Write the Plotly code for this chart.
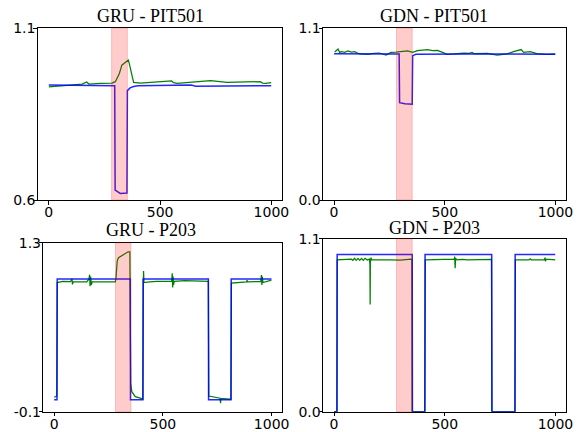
import plotly.graph_objects as go
from plotly.subplots import make_subplots

# ---------------- data ----------------
# GRU - PIT501
gru_pit_blue_x = [0, 150, 296, 298, 310, 321, 351, 353, 365, 381, 400, 640, 660, 999]
gru_pit_blue_y = [0.934, 0.933, 0.932, 0.629, 0.624, 0.619, 0.620, 0.918, 0.926, 0.930, 0.932, 0.934, 0.931, 0.932]
gru_pit_green_x = [0, 100, 150, 170, 180, 231, 284, 299, 317, 328, 351, 357, 361, 371, 381, 411,
                   546, 552, 560, 577, 727, 800, 950, 960, 975, 999]
gru_pit_green_y = [0.929, 0.933, 0.937, 0.943, 0.937, 0.939, 0.940, 0.944, 0.968, 0.992, 1.005, 1.007,
                   0.998, 0.973, 0.942, 0.940, 0.944, 0.946, 0.941, 0.939, 0.947, 0.942, 0.944, 0.940,
                   0.939, 0.941]

# GDN - PIT501
gdn_pit_blue_x = [0, 100, 294, 296, 320, 353, 355, 370, 600, 999]
gdn_pit_blue_y = [0.936, 0.934, 0.934, 0.622, 0.615, 0.612, 0.923, 0.932, 0.934, 0.932]
gdn_pit_green_x = [3, 10, 18, 25, 33, 48, 63, 78, 93, 115, 153, 180, 205, 235, 257, 280, 302, 332, 355,
                   377, 400, 422, 445, 467, 490, 512, 542, 587, 610, 624, 632, 692, 737, 782, 811,
                   834, 845, 856, 886, 916, 961, 999]
gdn_pit_green_y = [0.947, 0.955, 0.966, 0.944, 0.949, 0.944, 0.953, 0.946, 0.949, 0.934, 0.932, 0.938,
                   0.940, 0.927, 0.944, 0.946, 0.949, 0.953, 0.944, 0.955, 0.958, 0.961, 0.956, 0.957,
                   0.944, 0.932, 0.934, 0.940, 0.938, 0.944, 0.936, 0.938, 0.927, 0.934, 0.949, 0.959,
                   0.962, 0.944, 0.949, 0.936, 0.932, 0.934]

# GRU - P203
gru_p203_blue_x = [0, 13, 14, 350, 351, 408, 409, 709, 710, 813, 814, 999]
gru_p203_blue_y = [0, 0, 1, 1, 0, 0, 1, 1, 0, 0, 1, 1]
gru_p203_green_x = [0, 12, 14, 40, 75, 82, 84, 88, 150, 160, 163, 165, 168, 171, 175, 243, 281, 284,
                    290, 296, 320, 340, 348, 350, 352, 357, 373, 396, 408, 410, 411, 413, 440, 470,
                    540, 543, 545, 547, 549, 552, 600, 700, 709, 711, 740, 763, 765, 767, 809, 813,
                    815, 850, 885, 887, 889, 950, 953, 955, 957, 960, 999]
gru_p203_green_y = [0.02, 0.03, 0.97, 0.98, 0.977, 1.0, 0.955, 0.975, 0.975, 1.0, 1.035, 0.94, 1.02,
                    0.95, 0.975, 0.975, 0.975, 1.0, 1.15, 1.176, 1.203, 1.225, 1.225, 0.6, 0.135,
                    0.066, 0.025, 0.012, 0.005, 0.97, 1.065, 0.97, 0.975, 0.98, 0.98, 1.046, 0.93,
                    1.02, 0.95, 0.98, 0.985, 0.985, 0.98, 0.03, 0.02, 0.012, -0.029, 0.01, 0.005,
                    0.0, 0.965, 0.97, 0.975, 0.99, 0.975, 0.98, 1.032, 0.95, 1.02, 0.97, 0.99]

# GDN - P203
gdn_p203_blue_x = [0, 13, 14, 353, 354, 410, 411, 712, 713, 817, 818, 999]
gdn_p203_blue_y = [0, 0, 1, 1, 0, 0, 1, 1, 0, 0, 1, 1]
gdn_p203_green_x = [0, 13, 14, 60, 78, 85, 92, 100, 108, 116, 124, 132, 140, 150, 160, 162, 163, 164,
                    167, 170, 250, 300, 347, 352, 353, 410, 412, 500, 543, 545, 547, 549, 555, 580,
                    600, 711, 712, 713, 817, 819, 880, 887, 890, 950, 953, 955, 958, 999]
gdn_p203_green_y = [0.0, 0.0, 0.965, 0.966, 0.97, 0.962, 0.975, 0.962, 0.975, 0.962, 0.975, 0.962,
                    0.975, 0.965, 0.97, 0.94, 0.682, 0.95, 0.98, 0.965, 0.966, 0.964, 0.97, 0.965,
                    0.0, 0.0, 0.965, 0.966, 0.97, 0.986, 0.912, 0.975, 0.965, 0.968, 0.965, 0.968,
                    0.49, 0.0, 0.0, 0.965, 0.966, 0.972, 0.966, 0.966, 0.98, 0.956, 0.97, 0.965]

titles = ["GRU - PIT501", "GDN - PIT501", "GRU - P203", "GDN - P203"]
y_ranges = [[0.6, 1.1], [0.0, 1.1], [-0.1, 1.3], [0.0, 1.1]]
y_tick_text = [["0.6", "1.1"], ["0.0", "1.1"], ["-0.1", "1.3"], ["0.0", "1.1"]]
x_tick_vals = [0, 500, 1000]
x_tick_text = ["0", "500", "1000"]
anomaly_start = 282
anomaly_end = 353

series = [
    (gru_pit_blue_x, gru_pit_blue_y, gru_pit_green_x, gru_pit_green_y),
    (gdn_pit_blue_x, gdn_pit_blue_y, gdn_pit_green_x, gdn_pit_green_y),
    (gru_p203_blue_x, gru_p203_blue_y, gru_p203_green_x, gru_p203_green_y),
    (gdn_p203_blue_x, gdn_p203_blue_y, gdn_p203_green_x, gdn_p203_green_y),
]

# ---------------- layout geometry (px, in the target picture) ----------------
W, H = 584, 432
OFF = 8  # page body margin shifts the figure by this much
axes_px = [  # x0, x1, ytop, ybottom
    (37.7, 282.3, 28, 200),
    (323, 566.3, 28, 200),
    (43.3, 282.3, 242.7, 411.7),
    (323, 566.3, 238.7, 411.7),
]
title_px = [(150, 16), (434, 16), (150.5, 230), (434.7, 227.5)]

fig = make_subplots(rows=2, cols=2)
positions = [(1, 1), (1, 2), (2, 1), (2, 2)]

for i, ((r, c), (bx, by, gx, gy)) in enumerate(zip(positions, series)):
    fig.add_trace(go.Scatter(x=gx, y=gy, mode="lines", line=dict(color="#008000", width=1.25),
                             hoverinfo="skip"), row=r, col=c)
    fig.add_trace(go.Scatter(x=bx, y=by, mode="lines", line=dict(color="#0000ff", width=1.5),
                             opacity=0.85, hoverinfo="skip"), row=r, col=c)

for i in range(4):
    x0, x1, yt, yb = [v - OFF for v in axes_px[i]]
    sfx = "" if i == 0 else str(i + 1)
    fig.layout["xaxis" + sfx].update(
        domain=[x0 / W, x1 / W], range=[-49.95, 1048.95], tickvals=x_tick_vals, ticktext=x_tick_text,
        showgrid=False, zeroline=False, showline=True, mirror=True, linecolor="black", linewidth=1,
        ticks="outside", ticklen=3.5, tickcolor="black", automargin=False, ticklabelstandoff=-4,
        tickfont=dict(family="DejaVu Sans", size=14, color="black"))
    fig.layout["yaxis" + sfx].update(
        domain=[1 - yb / H, 1 - yt / H], range=y_ranges[i], tickvals=y_ranges[i], ticktext=y_tick_text[i],
        showgrid=False, zeroline=False, showline=True, mirror=True, linecolor="black", linewidth=1,
        ticks="outside", ticklen=3.5, tickcolor="black", automargin=False, ticklabelstandoff=-5,
        tickfont=dict(family="DejaVu Sans", size=14, color="black"))
    fig.add_shape(type="rect", xref="x" + sfx, yref="y" + sfx + " domain",
                  x0=anomaly_start, x1=anomaly_end, y0=0, y1=1,
                  fillcolor="rgba(255,0,0,0.2)", line=dict(color="rgba(255,0,0,0.2)", width=1),
                  layer="above")
    tx, ty = title_px[i]
    fig.add_annotation(text=titles[i], x=(tx - OFF) / W, y=1 - (ty - OFF) / H, xref="paper", yref="paper",
                       xanchor="center", yanchor="middle", showarrow=False,
                       font=dict(family="Liberation Serif", size=18, color="black"))

fig.update_layout(width=W, height=H, margin=dict(l=0, r=0, t=0, b=0, autoexpand=False),
                  paper_bgcolor="white", plot_bgcolor="white", showlegend=False)

fig.write_html("out.html")
